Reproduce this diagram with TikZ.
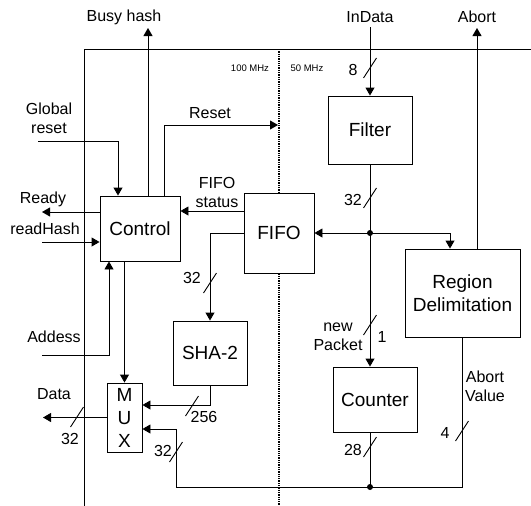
\documentclass[tikz,border=0pt]{standalone}
\usepackage{fontspec}
\setmainfont{Liberation Sans}
\usetikzlibrary{arrows.meta}
\newcommand\busmark[2]{\draw (#1,#2) ++(-6.5,10) -- ++(13,-20);}
\begin{document}
\begin{tikzpicture}[x=1pt,y=-1pt,line width=0.9pt,
  arr/.style={-{Triangle[length=8pt,width=9pt]}},
  blk/.style={draw,rectangle,inner sep=0pt,font=\fontsize{19}{23}\selectfont,align=center},
  lbl/.style={font=\fontsize{16}{19}\selectfont,align=center,inner sep=0pt},
  small/.style={font=\fontsize{9.5}{11}\selectfont,inner sep=0pt},
  clk/.style={line width=1.7pt,dash pattern=on 1.3pt off 1pt}]
\useasboundingbox (0,0) rectangle (531,506);
% blocks
\node[blk,minimum width=80pt,minimum height=65pt] (control) at (140,228.5) {Control};
\node[blk,minimum width=70pt,minimum height=80pt] (fifo) at (279,233) {FIFO};
\node[blk,minimum width=84pt,minimum height=68pt] (filter) at (370,130) {Filter};
\node[blk,minimum width=74pt,minimum height=64pt] (sha) at (210,353) {SHA-2};
\node[blk,minimum width=35pt,minimum height=69pt] (mux) at (124.5,417.5) {M\\U\\X};
\node[blk,minimum width=84pt,minimum height=65pt] (counter) at (375,399.5) {Counter};
\node[blk,minimum width=115pt,minimum height=88pt] (rd) at (462.5,293) {Region\\Delimitation};
% helper coordinates
\coordinate (busy) at (148,28);
\coordinate (gr) at (38,141);
\coordinate (grx) at (118,0);
\coordinate (rsx) at (164,0);
\coordinate (rsend) at (278,125);
\coordinate (ready) at (42,212);
\coordinate (rh) at (42,242);
\coordinate (yfs) at (0,211);
\coordinate (ysm) at (0,405);
\coordinate (addr) at (42,355);
\coordinate (adx) at (109,0);
\coordinate (dataend) at (43,417.5);
\coordinate (busL) at (176,487);
\coordinate (y32) at (0,429);
\coordinate (rdin) at (450,0);
\coordinate (abx) at (477,0);
\coordinate (abort) at (477,28);
\coordinate (indata) at (370,27);
% frame and clock boundary
\draw (84,506) -- (84,49) -- (531,49);
\draw[clk] (279,49) -- (fifo.north);
\draw[clk] (fifo.south) -- (279,506);
\node[small] (f100) at (250,68) {100 MHz};
\node[small] (f50) at (307,68) {50 MHz};
% connectors
\draw[arr] (control.north -| busy) -- (busy);
\node[lbl] (lbusy) at (124,17) {Busy hash};
\draw[arr] (gr) -| (control.north -| grx);
\node[lbl] (lgr) at (49,118) {Global\\reset};
\draw[arr] (control.north -| rsx) |- (rsend);
\node[lbl] (lrs) at (210,113) {Reset};
\draw[arr] (control.west |- ready) -- (ready);
\node[lbl] (lready) at (43,199) {Ready};
\draw[arr] (rh) -- (control.west |- rh);
\node[lbl] (lrh) at (45,229) {readHash};
\draw[arr] (fifo.west |- yfs) -- (control.east |- yfs);
\node[lbl] (lfs) at (217,192) {FIFO\\status};
\draw[arr] (fifo.west) -| (sha.north);
\busmark{210}{283}
\node[lbl] (l32a) at (192,278) {32};
\draw[arr] (sha.south) |- (mux.east |- ysm);
\busmark{192}{406}
\node[lbl] (l256) at (204,417) {256};
\draw[arr] (control.south -| mux.north) -- (mux.north);
\draw[arr] (addr) -| (control.south -| adx);
\node[lbl] (laddr) at (54,337) {Addess};
\draw[arr] (mux.west) -- (dataend);
\busmark{77}{417}
\node[lbl] (l32d) at (70,439) {32};
\node[lbl] (ldata) at (54,394) {Data};
\draw[arr] (rd.south) |- (busL) |- (mux.east |- y32);
\busmark{176}{452}
\node[lbl] (l32m) at (163,451) {32};
\busmark{462}{431}
\node[lbl] (l4) at (445,433) {4};
\node[lbl] (labv) at (485,386) {Abort\\Value};
\draw (counter.south -| filter.south) -- (filter.south |- busL);
\fill (filter.south |- busL) circle (3pt);
\busmark{370}{447}
\node[lbl] (l28) at (353,450) {28};
\draw[arr] (indata) -- (filter.north);
\node[lbl] (lin) at (370,17) {InData};
\busmark{370}{68}
\node[lbl] (l8) at (353,70) {8};
\draw[arr] (filter.south) -- (filter.south |- counter.north);
\busmark{370}{198}
\node[lbl] (l32f) at (353,200) {32};
\busmark{370}{325}
\node[lbl] (l1) at (382,337) {1};
\node[lbl] (lnp) at (338,337) {new\\Packet};
\fill (filter.south |- fifo.east) circle (3pt);
\draw[arr] (filter.south |- fifo.east) -- (fifo.east);
\draw[arr] (filter.south |- fifo.east) -| (rd.north -| rdin);
\draw[arr] (rd.north -| abx) -- (abort);
\node[lbl] (lab) at (477,17) {Abort};
\end{tikzpicture}
\end{document}
